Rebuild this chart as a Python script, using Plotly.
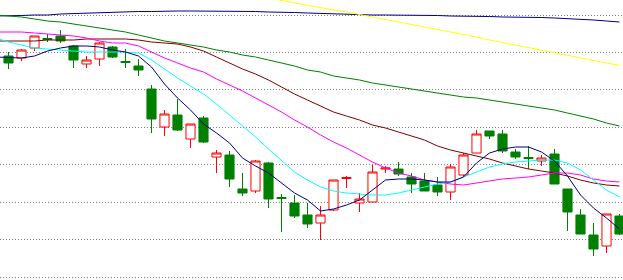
import plotly.graph_objects as go

# candle index (0..47), MA index (-1..47)
idx = list(range(0, 48))
ma_idx = list(range(-1, 48))

open_ = [24.4, 24.2, 25.2, 26.15, 26.4, 25.4, 23.6, 24.1, 25.3, 23.85,
         23.4, 21.1, 17.3, 18.5, 16.1, 18.2, 14.3, 14.5, 11.1, 10.9,
         13.7, 10.25, 9.7, 8.5, 7.7, 9.0, 12.15, 9.7, 9.8, 13.1,
         13.1, 12.3, 11.9, 11.5, 10.8, 12.5, 14.7, 16.9, 16.6, 14.8,
         14.25, 13.9, 14.6, 11.1, 8.5, 6.5, 5.4, 8.4]
high = [24.8, 25.1, 26.4, 26.6, 27.0, 25.5, 24.4, 25.8, 25.4, 25.1,
        24.1, 21.5, 19.0, 20.1, 17.6, 18.4, 15.0, 14.9, 12.7, 14.0,
        13.8, 10.6, 10.5, 9.7, 9.4, 12.0, 12.4, 10.7, 13.5, 13.4,
        13.8, 12.7, 12.7, 12.3, 13.6, 14.7, 17.0, 16.9, 17.0, 15.1,
        15.4, 14.5, 15.1, 11.1, 9.1, 7.7, 8.6, 8.6]
low = [23.1, 23.9, 24.9, 25.8, 25.7, 23.2, 23.2, 23.4, 24.2, 23.2,
       22.4, 16.7, 16.4, 16.9, 15.2, 15.7, 12.7, 11.3, 10.4, 10.7,
       9.2, 6.8, 8.2, 7.2, 6.0, 8.9, 11.2, 8.8, 9.8, 12.7,
       12.4, 10.7, 10.9, 10.4, 10.0, 12.3, 14.7, 16.1, 14.7, 14.1,
       13.1, 13.4, 11.6, 6.9, 6.6, 4.4, 4.7, 6.5]
close = [23.7, 25.0, 26.4, 26.05, 25.9, 24.0, 24.0, 25.7, 24.3, 23.75,
         23.0, 18.1, 18.6, 17.0, 17.6, 15.8, 14.7, 12.1, 10.7, 13.9,
         10.1, 10.15, 8.4, 7.6, 8.5, 12.0, 12.25, 10.1, 12.8, 13.2,
         12.6, 11.6, 10.9, 10.8, 13.3, 14.5, 16.6, 16.4, 14.9, 14.3,
         14.15, 14.2, 11.6, 8.8, 6.6, 5.1, 8.6, 6.6]

ma_navy = [24.3, 24.25, 24.2, 24.4, 24.9, 25.2, 25.4, 25.4, 25.3, 25.0,
           24.8, 24.4, 23.3, 21.6, 20.2, 19.0, 17.6, 16.7, 15.7, 14.2,
           13.4, 12.7, 11.7, 10.7, 10.0, 8.9, 9.1, 9.5, 10.0, 11.0,
           12.0, 12.1, 12.1, 12.0, 11.8, 11.8, 12.3, 13.7, 14.7, 15.1,
           15.3, 15.3, 14.8, 13.9, 12.4, 10.5, 9.2, 8.2, 7.1]
ma_cyan = [26.2, 25.8, 25.5, 25.2, 25.1, 25.0, 24.9, 24.8, 24.8, 24.8,
           24.8, 24.7, 24.0, 23.1, 22.2, 21.4, 20.6, 19.6, 18.5, 17.4,
           16.3, 15.1, 13.9, 12.8, 12.0, 11.3, 10.9, 10.7, 10.6, 10.5,
           10.5, 10.7, 11.0, 11.3, 11.6, 11.8, 12.3, 12.8, 13.3, 13.6,
           13.8, 13.9, 14.0, 14.0, 13.7, 13.0, 12.0, 11.0, 10.3]
ma_magenta = [26.8, 26.8, 26.8, 26.7, 26.6, 26.5, 26.4, 26.2, 25.9, 25.7,
              25.7, 25.4, 24.8, 24.2, 23.7, 23.2, 22.8, 22.1, 21.5, 20.9,
              20.2, 19.5, 18.8, 18.0, 17.3, 16.5, 15.8, 15.2, 14.5, 13.8,
              13.2, 12.7, 12.4, 12.0, 11.8, 11.6, 11.5, 11.7, 11.9, 12.1,
              12.2, 12.3, 12.5, 12.7, 12.7, 12.5, 12.1, 11.9, 11.8]
ma_maroon = [25.9, 25.9, 25.9, 25.9, 26.0, 26.0, 26.0, 26.1, 26.1, 26.1,
             26.1, 26.0, 25.8, 25.7, 25.6, 25.3, 24.9, 24.3, 23.7, 23.1,
             22.6, 22.0, 21.3, 20.6, 20.0, 19.4, 18.8, 18.4, 18.0, 17.5,
             17.2, 16.8, 16.4, 16.0, 15.4, 15.0, 14.7, 14.4, 14.1, 13.7,
             13.4, 13.1, 12.9, 12.7, 12.4, 12.0, 11.7, 11.5, 11.4]
ma_green = [28.5, 28.4, 28.3, 28.1, 27.9, 27.8, 27.6, 27.4, 27.2, 27.0,
            26.8, 26.5, 26.2, 25.9, 25.7, 25.5, 25.3, 25.0, 24.8, 24.5,
            24.3, 24.0, 23.7, 23.4, 23.0, 22.8, 22.4, 22.2, 22.0, 21.7,
            21.5, 21.3, 21.1, 20.9, 20.7, 20.5, 20.3, 20.2, 20.0, 19.8,
            19.6, 19.4, 19.2, 19.0, 18.7, 18.4, 18.1, 17.7, 17.4]
ma_long = [28.4, 28.4, 28.45, 28.5, 28.5, 28.6, 28.65, 28.7, 28.75, 28.8,
           28.8, 28.85, 28.85, 28.9, 28.9, 28.9, 28.9, 28.9, 28.9, 28.9,
           28.85, 28.8, 28.8, 28.75, 28.7, 28.65, 28.6, 28.6, 28.55, 28.5,
           28.5, 28.5, 28.5, 28.5, 28.45, 28.4, 28.4, 28.4, 28.35, 28.3,
           28.3, 28.25, 28.25, 28.2, 28.15, 28.1, 28.0, 27.9, 27.8]
ma_yellow = [None] * 21 + [
    30.2, 29.95, 29.7, 29.5, 29.25, 29.0, 28.8, 28.55, 28.3, 28.05,
    27.8, 27.6, 27.35, 27.1, 26.8, 26.55, 26.3, 26.0, 25.75, 25.5,
    25.25, 25.0, 24.75, 24.5, 24.25, 24.0, 23.7, 23.45]

fig = go.Figure()
fig.add_trace(go.Candlestick(
    x=idx, open=open_, high=high, low=low, close=close,
    increasing=dict(line=dict(color="#FF0000", width=1), fillcolor="#FFFFFF"),
    decreasing=dict(line=dict(color="#008000", width=1), fillcolor="#008000"),
    whiskerwidth=0, showlegend=False, hoverinfo="skip",
))

lines = [
    (ma_long, "#000080"),
    (ma_yellow, "#FFFF00"),
    (ma_green, "#008000"),
    (ma_maroon, "#800000"),
    (ma_magenta, "#FF00FF"),
    (ma_cyan, "#00FFFF"),
    (ma_navy, "#000080"),
]
for vals, col in lines:
    fig.add_trace(go.Scatter(x=ma_idx, y=vals, mode="lines",
                             line=dict(color=col, width=1),
                             showlegend=False, hoverinfo="skip"))

fig.update_layout(
    width=623, height=280,
    margin=dict(l=0, r=0, t=0, b=0),
    paper_bgcolor="#FFFFFF", plot_bgcolor="#FFFFFF",
    showlegend=False,
    boxgap=0.3, boxgroupgap=0,
    xaxis=dict(range=[-0.654, 47.269], showgrid=False, showticklabels=False,
               zeroline=False, showline=False, ticks="",
               rangeslider=dict(visible=False)),
    yaxis=dict(range=[2.0, 30.0], tick0=2.27, dtick=3.747,
               showgrid=True, gridcolor="#808080", gridwidth=1,
               griddash="1px,2px", showticklabels=False, zeroline=False,
               showline=False, ticks=""),
)

fig.write_html("out.html")
